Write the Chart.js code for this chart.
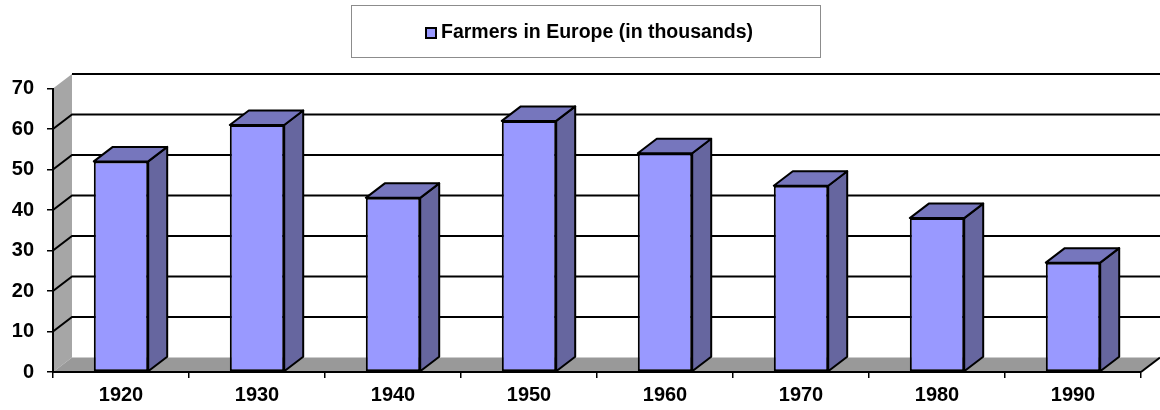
<!DOCTYPE html>
<html>
<head>
<meta charset="utf-8">
<script src="https://cdn.jsdelivr.net/npm/chart.js@4"></script>
<style>
    html, body { margin: 0; padding: 0; background: #fff; }
    canvas { display: block; }
</style>
</head>
<body>
<canvas id="chart" width="1160" height="410"></canvas>
<script>
const years = ['1920', '1930', '1940', '1950', '1960', '1970', '1980', '1990'];
const farmers = [52, 61, 43, 62, 54, 46, 38, 27];
const seriesName = 'Farmers in Europe (in thousands)';
const yMin = 0;
const yMax = 70;
const yStep = 10;

const depthX = 19;
const depthY = -14.5;
const labelFont = { family: "'Liberation Sans', Arial, sans-serif", size: 20, weight: 'bold' };

// walls, floor and the back gridlines, drawn before the axes
const walls = {
    id: 'walls',
    beforeDraw(chart) {
        const ctx = chart.ctx;
        const area = chart.chartArea;
        const y = chart.scales.y;
        const y0 = y.getPixelForValue(yMin);
        const yTop = y.getPixelForValue(yMax);
        ctx.save();

        // left side wall
        ctx.fillStyle = '#a6a6a6';
        ctx.beginPath();
        ctx.moveTo(area.left, y0);
        ctx.lineTo(area.left, yTop);
        ctx.lineTo(area.left + depthX, yTop + depthY);
        ctx.lineTo(area.left + depthX, y0 + depthY);
        ctx.closePath();
        ctx.fill();

        // floor
        ctx.fillStyle = '#999999';
        ctx.beginPath();
        ctx.moveTo(area.left, y0);
        ctx.lineTo(area.right, y0);
        ctx.lineTo(area.right + depthX, y0 + depthY);
        ctx.lineTo(area.left + depthX, y0 + depthY);
        ctx.closePath();
        ctx.fill();

        ctx.strokeStyle = '#000';
        ctx.lineWidth = 2;
        ctx.beginPath();
        ctx.moveTo(area.right, y0);
        ctx.lineTo(area.right + depthX, y0 + depthY);
        ctx.stroke();

        // gridlines across side wall and back wall
        for (let v = yMin + yStep; v <= yMax; v += yStep) {
            const py = y.getPixelForValue(v);
            ctx.beginPath();
            if (v < yMax) {
                ctx.moveTo(area.left, py);
                ctx.lineTo(area.left + depthX, py + depthY);
            } else {
                ctx.moveTo(area.left + depthX, py + depthY);
            }
            ctx.lineTo(area.right + depthX, py + depthY);
            ctx.stroke();
        }
        ctx.restore();
    }
};

// side and top faces of each bar
const bars3d = {
    id: 'bars3d',
    afterDatasetsDraw(chart) {
        const ctx = chart.ctx;
        const meta = chart.getDatasetMeta(0);
        ctx.save();
        ctx.strokeStyle = '#000';
        ctx.lineWidth = 2;
        ctx.lineJoin = 'round';
        meta.data.forEach(function (bar) {
            const l = bar.x - bar.width / 2;
            const r = bar.x + bar.width / 2;
            const t = bar.y;
            const b = bar.base;

            ctx.fillStyle = '#66669f';
            ctx.beginPath();
            ctx.moveTo(r, t);
            ctx.lineTo(r + depthX, t + depthY);
            ctx.lineTo(r + depthX, b + depthY);
            ctx.lineTo(r, b);
            ctx.closePath();
            ctx.fill();
            ctx.stroke();

            ctx.fillStyle = '#7676bd';
            ctx.beginPath();
            ctx.moveTo(l, t);
            ctx.lineTo(l + depthX, t + depthY);
            ctx.lineTo(r + depthX, t + depthY);
            ctx.lineTo(r, t);
            ctx.closePath();
            ctx.fill();
            ctx.stroke();
        });
        ctx.restore();
    }
};

// boxed legend at the top
const boxLegend = {
    id: 'boxLegend',
    afterDraw(chart) {
        const ctx = chart.ctx;
        const ds = chart.data.datasets[0];
        ctx.save();
        ctx.strokeStyle = '#8c8c8c';
        ctx.lineWidth = 1;
        ctx.strokeRect(351.5, 5.5, 469, 52);

        ctx.font = 'bold 19.5px "Liberation Sans", Arial, sans-serif';
        const tw = ctx.measureText(ds.label).width;
        const groupW = 12 + 4 + tw;
        const x0 = Math.round(589 - groupW / 2);
        const cy = 32;

        ctx.fillStyle = ds.backgroundColor;
        ctx.fillRect(x0, cy - 5, 11, 11);
        ctx.strokeStyle = '#000';
        ctx.lineWidth = 2;
        ctx.strokeRect(x0 + 1, cy - 4, 10, 10);

        ctx.fillStyle = '#000';
        ctx.textBaseline = 'middle';
        ctx.textAlign = 'left';
        ctx.fillText(ds.label, x0 + 16, cy + 1);
        ctx.restore();
    }
};

new Chart(document.getElementById('chart').getContext('2d'), {
    type: 'bar',
    data: {
        labels: years,
        datasets: [{
            label: seriesName,
            data: farmers,
            backgroundColor: '#9999ff',
            borderColor: '#000',
            borderWidth: 2,
            borderSkipped: false,
            barPercentage: 0.4,
            categoryPercentage: 1.0
        }]
    },
    options: {
        responsive: false,
        animation: false,
        devicePixelRatio: 1,
        layout: { padding: { top: 88.5, right: 19, bottom: 0, left: 0 } },
        plugins: {
            legend: { display: false },
            tooltip: { enabled: false }
        },
        scales: {
            x: {
                afterFit(scale) { scale.height = 38; },
                grid: { drawOnChartArea: false, drawTicks: true, tickLength: 6, color: '#000', lineWidth: 1.5, offset: true },
                border: { display: true, color: '#000', width: 2 },
                ticks: { color: '#000', font: labelFont, padding: 5, maxRotation: 0 }
            },
            y: {
                min: yMin,
                max: yMax,
                afterFit(scale) { scale.width = 53; },
                grid: { drawOnChartArea: false, drawTicks: true, tickLength: 6, color: '#000', lineWidth: 1.5 },
                border: { display: true, color: '#000', width: 2 },
                ticks: { stepSize: yStep, color: '#000', font: labelFont, padding: 13 }
            }
        }
    },
    plugins: [walls, bars3d, boxLegend]
});
</script>
</body>
</html>
